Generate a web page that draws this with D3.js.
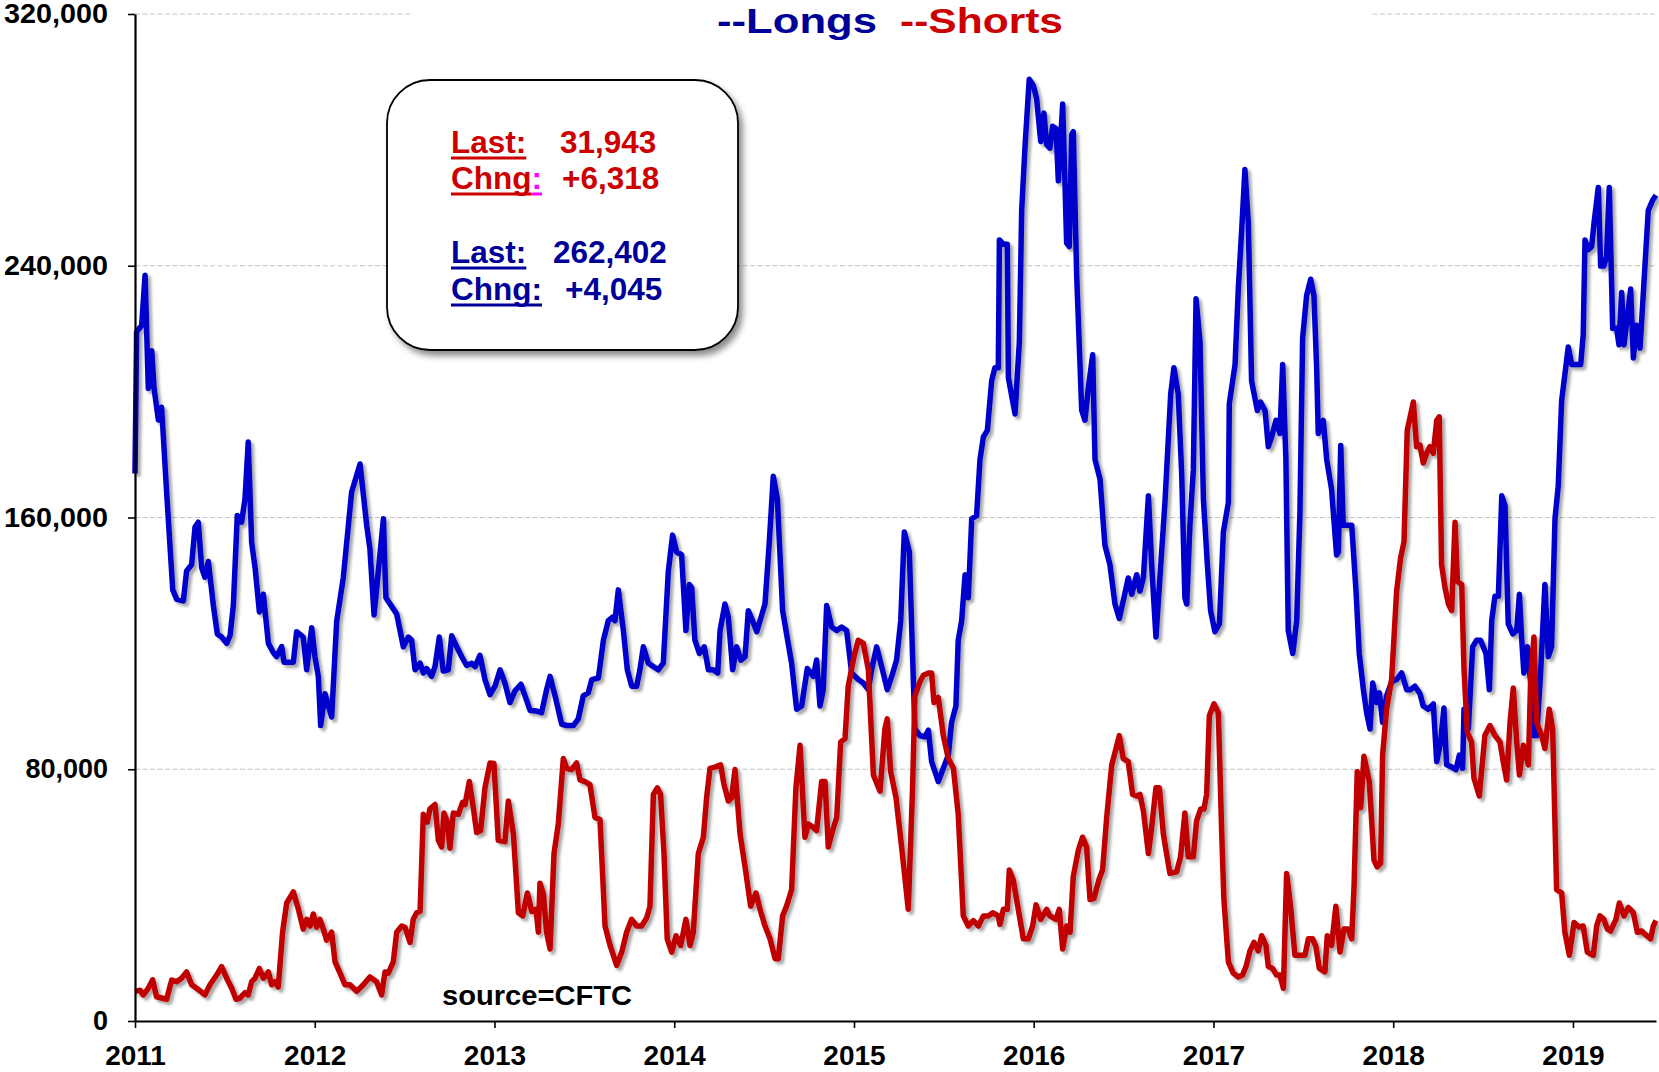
<!DOCTYPE html>
<html><head><meta charset="utf-8">
<script src="https://cdn.jsdelivr.net/npm/d3@7"></script>
<style>body{margin:0;background:#fff}svg{display:block}</style>
</head><body>
<svg id="chart" width="1659" height="1072"></svg>
<script>
// ---------- data ----------
const yearTicks = [2011,2012,2013,2014,2015,2016,2017,2018,2019];
const valueTicks = [0,80000,160000,240000,320000];

const longDates = [
2011.000,2011.009,2011.037,2011.056,2011.074,2011.093,2011.106,2011.130,2011.148,2011.176,2011.210,2011.232,2011.269,2011.287,2011.315,2011.334,2011.352,2011.371,2011.389,2011.408,2011.436,2011.458,2011.482,2011.510,2011.529,2011.547,2011.569,2011.593,2011.612,2011.630,2011.649,2011.668,2011.692,2011.714,2011.742,2011.770,2011.788,2011.816,2011.829,2011.881,2011.899,2011.936,2011.955,2011.983,2012.001,2012.020,2012.033,2012.057,2012.094,2012.122,2012.159,2012.205,2012.252,2012.289,2012.307,2012.330,2012.382,2012.396,
2012.456,2012.493,2012.521,2012.539,2012.558,2012.586,2012.604,2012.623,2012.650,2012.669,2012.693,2012.715,2012.743,2012.762,2012.790,2012.817,2012.845,2012.873,2012.892,2012.919,2012.947,2012.975,2013.003,2013.031,2013.058,2013.086,2013.114,2013.147,2013.170,2013.198,2013.235,2013.262,2013.290,2013.309,2013.337,2013.374,2013.402,2013.439,2013.466,2013.494,2013.522,2013.541,2013.578,2013.606,2013.633,2013.657,2013.670,2013.689,2013.717,2013.739,2013.763,2013.791,2013.809,2013.828,2013.856,
2013.911,2013.939,2013.967,2013.991,2014.013,2014.041,2014.065,2014.084,2014.097,2014.115,2014.140,2014.167,2014.190,2014.217,2014.242,2014.255,2014.282,2014.301,2014.325,2014.347,2014.371,2014.394,2014.412,2014.436,2014.459,2014.505,2014.529,2014.551,2014.574,2014.603,2014.625,2014.653,2014.681,2014.709,2014.740,2014.774,2014.792,2014.811,2014.829,2014.848,2014.876,2014.904,2014.931,2014.959,2014.987,2015.024,2015.052,2015.080,2015.098,2015.126,2015.154,2015.185,2015.210,2015.237,2015.260,2015.280,2015.308,
2015.326,2015.339,2015.367,2015.395,2015.414,2015.432,2015.469,2015.497,2015.525,2015.543,2015.567,2015.580,2015.599,2015.618,2015.636,2015.655,2015.682,2015.701,2015.720,2015.742,2015.766,2015.784,2015.803,2015.809,2015.831,2015.853,2015.859,2015.896,2015.920,2015.933,2015.951,2015.975,2015.998,2016.016,2016.039,2016.057,2016.072,2016.090,2016.105,2016.124,2016.137,2016.161,2016.174,2016.183,2016.198,2016.211,2016.220,2016.239,2016.267,2016.285,2016.304,2016.328,2016.341,2016.369,2016.396,2016.424,2016.452,2016.476,2016.498,2016.526,2016.545,2016.573,2016.591,2016.610,2016.638,2016.656,2016.680,2016.702,2016.730,2016.762,2016.780,
2016.804,2016.823,2016.841,2016.851,2016.869,2016.888,2016.903,2016.925,2016.944,2016.966,2016.984,2017.008,2017.033,2017.055,2017.083,2017.088,2017.120,2017.138,2017.157,2017.175,2017.194,2017.212,2017.244,2017.262,2017.287,2017.305,2017.324,2017.348,2017.370,2017.385,2017.403,2017.416,2017.441,2017.463,2017.481,2017.496,2017.518,2017.541,2017.559,2017.574,2017.583,2017.611,2017.630,2017.657,2017.685,2017.695,2017.708,2017.722,2017.745,2017.769,2017.793,2017.811,2017.834,2017.852,2017.871,2017.886,2017.908,2017.923,2017.941,2017.963,2017.991,2018.019,2018.047,2018.075,2018.097,2018.121,
2018.149,2018.167,2018.195,2018.223,2018.242,2018.264,2018.282,2018.297,2018.325,2018.349,2018.368,2018.386,2018.394,2018.418,2018.442,2018.464,2018.486,2018.501,2018.516,2018.535,2018.548,2018.566,2018.585,2018.604,2018.622,2018.640,2018.665,2018.687,2018.702,2018.715,2018.727,2018.746,2018.765,2018.783,2018.798,2018.820,2018.844,2018.863,2018.881,2018.900,2018.918,2018.937,2018.955,2018.974,2018.993,2019.020,2019.043,2019.057,2019.067,2019.085,2019.104,2019.117,2019.141,2019.154,2019.172,2019.187,2019.202,2019.221,2019.243,2019.256,2019.271,2019.284,2019.308,2019.321,2019.336,2019.354,2019.373,2019.395,2019.419,2019.443,2019.462
];
const longValues = [
174000,219000,221000,237000,201000,213000,201000,191000,195000,168000,137000,134000,133500,143000,145000,157000,158500,144000,141000,146000,132000,123000,122000,120000,122500,132000,160600,158500,166000,184000,152000,144000,130000,135600,120000,117000,115800,119000,114000,114000,123700,122000,111600,125000,115800,109500,93900,104000,96600,127000,141000,168000,177000,157500,150000,129000,159600,134500,
129300,118900,122000,121000,111600,113700,110600,112000,109500,112600,122000,111200,111600,122400,118900,115800,113000,113700,112600,116200,108500,103700,106400,111600,107400,101200,104900,107000,103300,98700,98500,98000,105300,109500,103300,94300,93900,93900,96000,103300,104300,108500,109000,121000,127200,128300,127200,137000,124000,111600,106400,106400,111600,118900,113700,
111600,113700,142900,154400,149100,148100,124100,138700,137700,121000,116800,118900,111600,111600,110600,124100,132500,128300,111600,118900,114700,115800,130400,127200,123700,132500,152300,173100,165800,130400,123000,113700,99100,100100,112000,109500,114700,100100,105300,132000,125200,124100,125200,124100,110600,108500,107400,105300,111600,118900,112600,105300,109500,114700,127200,155400,149100,
115800,92800,90700,90300,92400,82400,76100,80300,84500,94900,100100,121000,127200,141800,134500,159600,160600,178400,185600,187700,203400,207600,207600,248200,246800,246800,204400,192900,215900,257600,277400,299300,297300,293100,279500,288500,278500,277400,284300,283600,267000,291400,266000,247200,246100,281600,282600,236800,194000,190900,201300,211700,178400,172100,151200,145000,132500,127900,133500,140800,135600,141800,136600,140800,166900,145000,122000,140800,164800,199200,207600,
199200,174200,134500,132500,157500,175200,229500,215900,165800,145000,130400,123700,126200,155400,164800,196100,208600,232600,251400,270600,253500,203400,194000,196700,194000,182500,185700,190900,186700,208600,178400,124100,116800,127200,161700,217000,230500,235700,230500,207600,186700,190900,178400,169000,148100,149100,182900,157500,157500,157500,136600,116800,105300,98000,92800,107400,101200,104300,94900,103300,107800,108500,110600,105300,105300,106400,
104000,100100,99100,100800,82400,88700,99500,81400,80700,79900,84500,80300,99100,92800,118900,121000,121000,118900,116800,105300,127200,135000,135000,166900,163700,126200,123000,124100,135600,121000,110600,118900,107400,90700,90700,110600,138700,115800,118900,159600,170000,197100,205500,214200,208600,208600,208600,218000,248200,245100,246100,253500,264900,239900,239900,243000,264900,220100,220100,214900,231500,214900,226300,232600,210700,221100,213800,234700,257600,260800,262402
];

const shortDates = [
2011.000,2011.028,2011.046,2011.074,2011.098,2011.120,2011.148,2011.176,2011.204,2011.232,2011.259,2011.287,2011.315,2011.343,2011.365,2011.389,2011.417,2011.454,2011.482,2011.510,2011.538,2011.562,2011.584,2011.612,2011.630,2011.649,2011.668,2011.692,2011.714,2011.742,2011.760,2011.779,2011.797,2011.821,2011.844,2011.881,2011.909,2011.936,2011.955,2011.974,2011.992,2012.011,2012.029,2012.048,2012.066,2012.094,2012.113,2012.141,2012.168,2012.196,2012.233,2012.270,2012.307,2012.344,2012.372,2012.391,2012.409,
2012.437,2012.456,2012.484,2012.502,2012.530,2012.548,2012.567,2012.586,2012.604,2012.626,2012.641,2012.669,2012.688,2012.706,2012.719,2012.738,2012.752,2012.771,2012.799,2012.823,2012.836,2012.860,2012.882,2012.901,2012.923,2012.947,2012.975,2012.997,2013.021,2013.058,2013.077,2013.105,2013.133,2013.157,2013.183,2013.207,2013.231,2013.244,2013.253,2013.272,2013.290,2013.309,2013.331,2013.355,2013.383,2013.402,2013.429,2013.457,2013.476,2013.503,2013.531,2013.559,2013.587,2013.615,2013.643,2013.680,2013.708,2013.735,2013.763,2013.791,2013.819,2013.847,2013.865,2013.884,
2013.906,2013.924,2013.943,2013.961,2013.986,2014.010,2014.036,2014.065,2014.088,2014.106,2014.134,2014.162,2014.180,2014.199,2014.227,2014.258,2014.277,2014.301,2014.319,2014.338,2014.366,2014.394,2014.425,2014.455,2014.477,2014.505,2014.533,2014.561,2014.579,2014.603,2014.625,2014.653,2014.677,2014.700,2014.727,2014.746,2014.774,2014.792,2014.820,2014.839,2014.857,2014.876,2014.904,2014.926,2014.950,2014.968,2015.000,2015.024,2015.052,2015.080,2015.108,2015.145,2015.172,2015.185,2015.204,2015.234,2015.265,2015.302,
2015.326,2015.339,2015.364,2015.386,2015.414,2015.432,2015.445,2015.469,2015.497,2015.525,2015.553,2015.580,2015.608,2015.636,2015.664,2015.692,2015.720,2015.747,2015.772,2015.803,2015.812,2015.831,2015.853,2015.864,2015.886,2015.914,2015.942,2015.970,2015.994,2016.013,2016.039,2016.072,2016.090,2016.124,2016.142,2016.161,2016.183,2016.202,2016.220,2016.248,2016.272,2016.294,2016.313,2016.335,2016.365,2016.383,2016.406,2016.434,2016.458,2016.476,2016.498,2016.526,2016.550,2016.573,2016.591,2016.610,2016.638,2016.656,2016.680,2016.699,2016.721,2016.739,
2016.758,2016.795,2016.817,2016.841,2016.860,2016.888,2016.906,2016.929,2016.947,2016.962,2016.977,2017.003,2017.027,2017.046,2017.058,2017.083,2017.110,2017.138,2017.162,2017.181,2017.203,2017.225,2017.249,2017.268,2017.292,2017.305,2017.329,2017.351,2017.370,2017.389,2017.407,2017.429,2017.453,2017.481,2017.509,2017.528,2017.552,2017.570,2017.589,2017.620,2017.633,2017.657,2017.681,2017.704,2017.726,2017.750,2017.769,2017.782,2017.800,2017.819,2017.837,2017.867,2017.893,2017.911,2017.930,2017.941,2017.963,2017.991,2018.019,2018.041,2018.060,2018.078,2018.112,2018.130,
2018.149,2018.167,2018.186,2018.204,2018.223,2018.242,2018.256,2018.269,2018.288,2018.307,2018.325,2018.344,2018.357,2018.381,2018.394,2018.412,2018.436,2018.449,2018.479,2018.510,2018.538,2018.566,2018.594,2018.612,2018.631,2018.650,2018.668,2018.687,2018.702,2018.724,2018.752,2018.765,2018.783,2018.798,2018.826,2018.844,2018.868,2018.887,2018.909,2018.937,2018.955,2018.980,2019.006,2019.035,2019.057,2019.080,2019.113,2019.132,2019.150,2019.172,2019.191,2019.209,2019.239,2019.258,2019.284,2019.308,2019.336,2019.358,2019.382,2019.410,2019.432,2019.447,2019.462
];
const shortValues = [
9400,9800,8300,10400,13100,7700,7300,6900,13000,12500,13600,15600,11500,10400,9400,8300,11500,14600,17300,13600,10400,6900,7300,9000,8300,12500,13600,16700,13600,15600,11500,12500,10800,28200,37500,41000,35500,29200,32300,30200,34000,29800,32300,29200,25700,28200,18800,15200,11500,11500,9400,11500,14000,12500,8300,15600,15200,
18800,28200,30200,29800,25000,32300,34400,34800,65700,63200,67400,68800,57400,55300,66100,63200,54900,66100,65700,69500,68800,76100,67800,59900,60500,74100,82000,81800,57400,57000,69900,59500,34400,33400,40700,34800,35500,28200,43800,40300,28200,22900,53200,62600,83400,80300,79900,82000,76600,76100,75100,64700,64000,30200,24000,17700,21900,28200,32300,30200,30200,32800,36500,72000,
74100,72000,53200,26100,21900,27100,24000,32300,24000,28200,53200,58400,70900,80300,80700,81400,75100,69900,70900,79900,59500,49000,36500,40700,35500,30200,26100,19800,19800,33400,36500,41700,74100,87600,58400,62600,61500,60500,76100,76100,55300,59500,64700,88700,89700,106400,115800,121000,120000,111600,78200,73000,92800,96000,79300,70900,55300,35500,
74100,103300,107400,109900,110600,110600,101200,102800,90700,83400,80300,65700,33400,30200,31900,30200,33400,33400,34400,33400,30700,35500,35500,48000,44800,35500,26100,26100,30200,36900,32300,35500,33400,32300,35500,22900,30200,28200,45900,54200,58400,55300,38600,39000,45300,48000,64700,81400,86600,90700,83400,82400,72000,71500,72000,66800,53200,61500,74100,74100,59500,53200,
46900,47400,52200,66100,52200,52200,63600,67400,67400,72000,97000,100800,98000,59500,38600,18800,15200,14000,14600,17300,22300,25000,22300,27100,24000,17300,16700,14600,14600,10400,46900,36500,20900,20900,20900,26100,26100,23600,16700,15600,27100,24000,36500,21900,29200,29200,26100,42800,79300,67800,84100,76100,51100,49000,50100,84500,99100,108500,136600,147100,152300,187700,196700,182500,
183000,177300,180400,182500,180400,190900,192000,145000,137700,132500,130400,158500,139700,138700,111600,91800,88700,77200,71500,90700,93900,90700,88700,82400,76600,94900,105800,88700,78200,87600,81400,109500,122000,94900,90700,86600,99100,92800,41700,40700,28200,20900,31300,29800,30200,21900,20900,30200,33400,32300,29200,28600,32300,37500,33400,36100,34400,28200,28600,27100,26100,30200,31943
];

const titleLongs = "--Longs";
const titleShorts = "--Shorts";
const sourceText = "source=CFTC";
const shortsBox = {last: "31,943", chng: "+6,318"};
const longsBox  = {last: "262,402", chng: "+4,045"};

// ---------- drawing ----------
const BLUE_LINE = "#0000cc", RED_LINE = "#c00000";
const BLUE_TXT = "#000099", RED_TXT = "#cc0000";
const FONT = "'Liberation Sans', Arial, Helvetica, sans-serif";

const svg = d3.select("#chart");
const defs = svg.append("defs");
const f1 = defs.append("filter").attr("id","lineShadow").attr("x","-5%").attr("y","-5%").attr("width","110%").attr("height","110%");
f1.append("feDropShadow").attr("dx",3).attr("dy",3).attr("stdDeviation",1.6).attr("flood-color","#000").attr("flood-opacity",0.35);
const f2 = defs.append("filter").attr("id","boxShadow").attr("x","-10%").attr("y","-10%").attr("width","125%").attr("height","125%");
f2.append("feDropShadow").attr("dx",4).attr("dy",5).attr("stdDeviation",3).attr("flood-color","#000").attr("flood-opacity",0.45);

const x = d3.scaleLinear().domain([2011, 2019.462]).range([135, 1656]);
const y = d3.scaleLinear().domain([0, 320000]).range([1021, 14]);

// gridlines
svg.append("g").selectAll("line").data(valueTicks.filter(v => v > 0)).join("line")
  .attr("x1", x.range()[0]).attr("x2", x.range()[1])
  .attr("y1", d => y(d)).attr("y2", d => y(d))
  .attr("stroke", "#c4c4c4").attr("stroke-width", 1.2).attr("stroke-dasharray", "5,2.5");

// white backing behind the title
svg.append("rect").attr("x", 413).attr("y", 0).attr("width", 958).attr("height", 40).attr("fill", "#fff");

// lines
const line = d3.line().x(d => x(d[0])).y(d => y(d[1]));
const longData = longDates.map((d, i) => [d, longValues[i]]);
const shortData = shortDates.map((d, i) => [d, shortValues[i]]);
const lg = svg.append("g").attr("filter", "url(#lineShadow)");
lg.append("path").datum(longData).attr("d", line).attr("fill", "none")
  .attr("stroke", BLUE_LINE).attr("stroke-width", 5.5).attr("stroke-linejoin", "round");
lg.append("path").datum(shortData).attr("d", line).attr("fill", "none")
  .attr("stroke", RED_LINE).attr("stroke-width", 5.5).attr("stroke-linejoin", "round");

// axes
const yAxis = svg.append("g").attr("transform", `translate(${x.range()[0]},0)`)
  .call(d3.axisLeft(y).tickValues(valueTicks).tickFormat(d3.format(",")).tickSize(7).tickSizeOuter(0).tickPadding(20));
const xAxis = svg.append("g").attr("transform", `translate(0,${y(0)})`)
  .call(d3.axisBottom(x).tickValues(yearTicks).tickFormat(d3.format("d")).tickSize(7).tickSizeOuter(0).tickPadding(17));
[yAxis, xAxis].forEach(g => {
  g.select(".domain").attr("stroke", "#000").attr("stroke-width", 2.2);
  g.selectAll(".tick line").attr("stroke", "#000").attr("stroke-width", 1.6);
  g.selectAll("text").attr("fill", "#000").attr("font-family", FONT).attr("font-weight", "bold");
});
yAxis.selectAll("text").attr("font-size", 27).attr("textLength", 104).attr("lengthAdjust","spacingAndGlyphs")
  .each(function(d){ const t = d3.format(",")(d); if (t.length < 7) d3.select(this).attr("textLength", null); });
xAxis.selectAll("text").attr("font-size", 28);

// title
svg.append("text").attr("x", 717).attr("y", 33).text(titleLongs)
  .attr("font-family", FONT).attr("font-weight", "bold").attr("font-size", 35).attr("fill", BLUE_TXT)
  .attr("textLength", 160).attr("lengthAdjust", "spacingAndGlyphs");
svg.append("text").attr("x", 900).attr("y", 33).text(titleShorts)
  .attr("font-family", FONT).attr("font-weight", "bold").attr("font-size", 35).attr("fill", RED_TXT)
  .attr("textLength", 163).attr("lengthAdjust", "spacingAndGlyphs");

// annotation box
svg.append("rect").attr("x", 387).attr("y", 80).attr("width", 351).attr("height", 270).attr("rx", 43)
  .attr("fill", "#fff").attr("stroke", "#000").attr("stroke-width", 1.8).attr("filter", "url(#boxShadow)");

function boxText(xp, yp, txt, color, opts = {}) {
  const t = svg.append("text").attr("x", xp).attr("y", yp).text(txt)
    .attr("font-family", FONT).attr("font-weight", "bold").attr("font-size", 31.5).attr("fill", color);
  if (opts.underline) {
    const w = t.node().getComputedTextLength();
    svg.append("rect").attr("x", xp).attr("y", yp + 3.5).attr("width", w).attr("height", 3).attr("fill", opts.underline);
  }
  return t;
}
// shorts block
boxText(451, 153, "Last:", RED_TXT, {underline: RED_TXT});
boxText(560, 153, shortsBox.last, RED_TXT);
const chR = boxText(451, 189, "Chng", RED_TXT, {underline: RED_TXT});
const chRw = chR.node().getComputedTextLength();
boxText(451 + chRw, 189, ":", "#ff00ff", {underline: "#ff00ff"});
boxText(562, 189, shortsBox.chng, RED_TXT);
// longs block
boxText(451, 263, "Last:", BLUE_TXT, {underline: BLUE_TXT});
boxText(553, 263, longsBox.last, BLUE_TXT);
boxText(451, 300, "Chng:", BLUE_TXT, {underline: BLUE_TXT});
boxText(565, 300, longsBox.chng, BLUE_TXT);

// source
svg.append("text").attr("x", 442).attr("y", 1005).text(sourceText)
  .attr("font-family", FONT).attr("font-weight", "bold").attr("font-size", 27).attr("fill", "#000")
  .attr("textLength", 190).attr("lengthAdjust", "spacingAndGlyphs");
</script>
</body></html>
